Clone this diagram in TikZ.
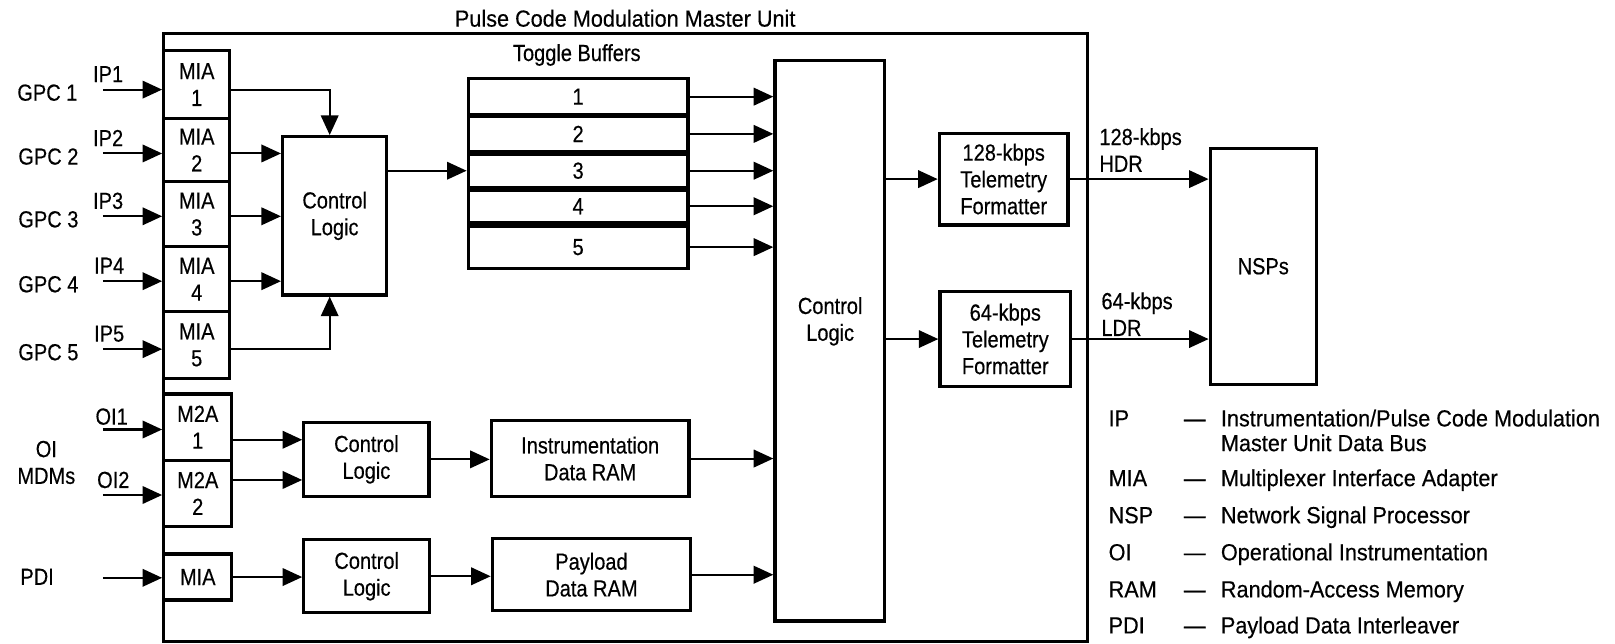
\documentclass[tikz,border=0pt]{standalone}
\usepackage{fontspec}
\setmainfont{Liberation Sans}[FakeStretch=0.86,FakeBold=0.4]
\newfontfamily\legfont{Liberation Sans}[FakeStretch=0.93,FakeBold=0.4]
\usetikzlibrary{arrows.meta}
\newcommand{\boxat}[7][]{\node[blk,#1,minimum width={(#5-#3)*0.5pt},minimum height={(#6-#4)*0.5pt}] (#2) at ({(#3+#5)/2},{(#4+#6)/2}) {#7};}
\begin{document}
\begin{tikzpicture}[x=0.5pt,y=-0.5pt,
  font=\fontsize{11.3}{13}\selectfont,
  blk/.style={draw, line width=1.6pt, inner sep=0pt, align=center},
  arr/.style={line width=1pt, -{Triangle[length=9.5pt,width=8.5pt]}},
  lbl/.style={inner sep=0pt, align=center},
  leg/.style={inner sep=0pt, anchor=base west, font=\legfont\fontsize{11.3}{13}\selectfont}]
\useasboundingbox (0,0) rectangle (1568,625);

% outer unit
\boxat[line width=1.5pt]{pcm}{159}{32.5}{1055.5}{623}{}
\node[lbl, font=\legfont\fontsize{11.3}{13}\selectfont] (title) at (607,17.8) {Pulse Code Modulation Master Unit};

% MIA column
\boxat{mia1}{159}{49.2}{223}{115}{MIA\\1}
\boxat{mia2}{159}{115}{223}{176.4}{MIA\\2}
\boxat{mia3}{159}{176.4}{223}{239.5}{MIA\\3}
\boxat{mia4}{159}{239.5}{223}{302.6}{MIA\\4}
\boxat{mia5}{159}{302.6}{223}{367.3}{MIA\\5}

\boxat{cl}{274.4}{132.7}{375.4}{286.4}{Control\\Logic}

\coordinate (in1) at (100,87);
\coordinate (in2) at (100,149);
\coordinate (in3) at (100,210);
\coordinate (in4) at (100,273);
\coordinate (in5) at (100,339);

\node[lbl] (gpc1) at (46,90) {GPC 1};
\node[lbl] (gpc2) at (47,152) {GPC 2};
\node[lbl] (gpc3) at (47,213) {GPC 3};
\node[lbl] (gpc4) at (47,276) {GPC 4};
\node[lbl] (gpc5) at (47,342) {GPC 5};
\node[lbl] (ip1) at (105,72) {IP1};
\node[lbl] (ip2) at (105,134) {IP2};
\node[lbl] (ip3) at (105,195) {IP3};
\node[lbl] (ip4) at (106,258) {IP4};
\node[lbl] (ip5) at (106,324) {IP5};

\draw[arr] (in1) -- (in1 -| mia1.west);
\draw[arr] (in2) -- (in2 -| mia2.west);
\draw[arr] (in3) -- (in3 -| mia3.west);
\draw[arr] (in4) -- (in4 -| mia4.west);
\draw[arr] (in5) -- (in5 -| mia5.west);

\draw[arr] (in1 -| mia1.east) -| ([xshift=-2.4pt]cl.north);
\draw[arr] (in2 -| mia2.east) -- (in2 -| cl.west);
\draw[arr] (in3 -| mia3.east) -- (in3 -| cl.west);
\draw[arr] (in4 -| mia4.east) -- (in4 -| cl.west);
\draw[arr] (in5 -| mia5.east) -| ([xshift=-2.4pt]cl.south);

% toggle buffers
\node[lbl] (tbl) at (560,53.4) {Toggle Buffers};
\boxat{tb1}{454.6}{76}{668}{111.7}{1}
\boxat{tb2}{454.6}{113}{668}{147}{2}
\boxat{tb3}{454.6}{149.5}{668}{182}{3}
\boxat{tb4}{454.6}{184.5}{668}{216}{4}
\boxat{tb5}{454.6}{219.4}{668}{260.5}{5}
\draw[arr] (cl.east |- tb3.west) -- (tb3.west);

% big control logic
\boxat{bigcl}{752.4}{59}{859}{603}{}
\node[lbl] (bigcltxt) at (806,312) {Control\\Logic};
\foreach \t in {tb1,tb2,tb3,tb4,tb5} \draw[arr] (\t.east) -- (\t.east -| bigcl.west);

% formatters and NSPs
\boxat{f128}{912}{129.4}{1037}{218.4}{128-kbps\\Telemetry\\Formatter}
\boxat{f64}{912.6}{283}{1039.5}{375.4}{64-kbps\\Telemetry\\Formatter}
\boxat{nsp}{1175}{144}{1278}{373}{NSPs}
\draw[arr] (bigcl.east |- f128.west) -- (f128.west);
\draw[arr] (bigcl.east |- f64.west) -- (f64.west);
\draw[arr] (f128.east) -- (f128.east -| nsp.west);
\draw[arr] (f64.east) -- (f64.east -| nsp.west);
\node[lbl, align=left, anchor=west] (hdr) at (1067,145.6) {128-kbps\\HDR};
\node[lbl, align=left, anchor=west] (ldr) at (1069,305) {64-kbps\\LDR};

% lower section
\boxat{m2a1}{159}{382.5}{225}{447}{M2A\\1}
\boxat{m2a2}{159}{447}{225}{511}{M2A\\2}
\boxat{miap}{159}{538}{225}{582.5}{MIA}
\boxat{cl1}{295}{410}{416.5}{482}{Control\\Logic}
\boxat{cl2}{295}{524}{417}{595}{Control\\Logic}
\boxat{idr}{477}{408.4}{669}{482}{Instrumentation\\Data RAM}
\boxat{pdr}{478}{523}{670.5}{593}{Payload\\Data RAM}

\coordinate (oi1) at (100,417);
\coordinate (oi2) at (100,480.6);
\coordinate (pdi) at (100,561);
\draw[arr] (oi1) -- (oi1 -| m2a1.west);
\draw[arr] (oi2) -- (oi2 -| m2a2.west);
\draw[arr] (pdi) -- (pdi -| miap.west);

\coordinate (p1) at ([yshift=-6.1pt]m2a1.east);
\coordinate (p2) at ([yshift=6.5pt]m2a2.east);
\draw[arr] (p1) -- (p1 -| cl1.west);
\draw[arr] (p2) -- (p2 -| cl1.west);
\draw[arr] (miap.east) -- (miap.east -| cl2.west);
\draw[arr] (cl1.east) -- (cl1.east -| idr.west);
\draw[arr] (cl2.east) -- (cl2.east -| pdr.west);
\draw[arr] (idr.east) -- (idr.east -| bigcl.west);
\draw[arr] (pdr.east) -- (pdr.east -| bigcl.west);

\node[lbl] (oimdm) at (45,449) {OI\\MDMs};
\node[lbl] (oi1l) at (108.4,404.5) {OI1};
\node[lbl] (oi2l) at (110,466) {OI2};
\node[lbl] (pdil) at (36,560) {PDI};

% legend
\node[leg] (la1) at (1076,414) {IP};
\node[leg] (ld1) at (1149,414) {—};
\node[leg] (lt1) at (1185,414) {Instrumentation/Pulse Code Modulation};
\node[leg] (lt1b) at (1185,438) {Master Unit Data Bus};
\node[leg] (la2) at (1076,472) {MIA};
\node[leg] (ld2) at (1149,472) {—};
\node[leg] (lt2) at (1185,472) {Multiplexer Interface Adapter};
\node[leg] (la3) at (1076,508) {NSP};
\node[leg] (ld3) at (1149,508) {—};
\node[leg] (lt3) at (1185,508) {Network Signal Processor};
\node[leg] (la4) at (1076,544) {OI};
\node[leg] (ld4) at (1149,544) {—};
\node[leg] (lt4) at (1185,544) {Operational Instrumentation};
\node[leg] (la5) at (1076,580) {RAM};
\node[leg] (ld5) at (1149,580) {—};
\node[leg] (lt5) at (1185,580) {Random-Access Memory};
\node[leg] (la6) at (1076,615) {PDI};
\node[leg] (ld6) at (1149,615) {—};
\node[leg] (lt6) at (1185,615) {Payload Data Interleaver};
\end{tikzpicture}
\end{document}
